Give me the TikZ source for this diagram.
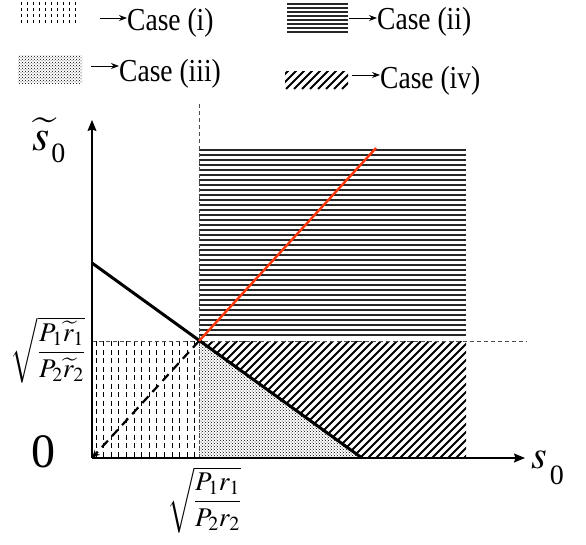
\documentclass[tikz,border=0pt]{standalone}
\usepackage{amsmath}
\usepackage{mathptmx}
\usepackage[no-math]{fontspec}
\setmainfont{Liberation Serif}
\usepackage{graphicx}
\usepackage{tikz}
\usetikzlibrary{arrows.meta,patterns}
\definecolor{ridgered}{RGB}{255,55,10}
\newcommand\narrow[1]{\scalebox{0.86}[1]{#1}}

\begin{document}
\begin{tikzpicture}[x=1pt, y=-1pt,
  axis/.style={line width=1.1pt, -{Stealth[length=11pt,width=9pt,inset=1.5pt]}},
  guide/.style={line width=0.8pt, black!70, dash pattern=on 4pt off 3pt},
  bound/.style={line width=3pt},
  ridge/.style={line width=2.4pt, ridgered},
  diag/.style={line width=2.2pt, dash pattern=on 9pt off 6pt, -{Stealth[length=8pt,width=7pt]}},
  stripe/.style={line width=1.2pt, black!85},
  hatch/.style={line width=2.1pt},
  dashcol/.style={line width=1pt, dash pattern=on 5pt off 3.5pt},
  dots/.style={pattern=crosshatch dots, pattern color=black},
  legtext/.style={anchor=base west, inner sep=0pt, font=\fontsize{32}{32}\selectfont},
  legarrow/.style={line width=1pt, -{Stealth[length=8pt,width=6pt]}},
  lbl/.style={anchor=base west, inner sep=0pt}]
\useasboundingbox (0,0) rectangle (586,544);

% key points
\coordinate (O) at (92,458);
\coordinate (Xtip) at (525,458);
\coordinate (Ytip) at (92,120);
\coordinate (K) at (199,341);
\coordinate (A) at (92,263);
\coordinate (B) at (362,458);
\coordinate (R) at (376,148);

% case (i)
\begin{scope}
\clip (92,341) rectangle (199,458);
\foreach \x in {96,103.6,...,196} \draw[dashcol] (\x,341) -- (\x,458);
\end{scope}
% case (ii)
\foreach \y in {150,155,...,335} \draw[stripe] (199,\y) -- (466,\y);
% case (iii)
\fill[dots] (K) -- (199,458) -- (B) -- cycle;
% case (iv)
\begin{scope}
\clip (K) -- (466,341) -- (466,458) -- (B) -- cycle;
\foreach \c in {80,88,...,470} \draw[hatch] (\c,458) -- ++(120,-120);
\end{scope}

% guides
\draw[guide] (199,104) -- (199,458);
\draw[guide] (92,341) -- (527,341);

% lines
\draw[bound] (A) -- (B);
\draw[ridge] (K) -- (R);
\draw[diag] (K) -- (O);
\draw[axis] (O) -- (Xtip);
\draw[axis] (O) -- (Ytip);

% axis labels
\node[lbl, font=\fontsize{44}{44}\selectfont] (ylab) at (32,150) {$\widetilde{s}$\kern2pt\raisebox{-12pt}{\fontsize{28}{28}\selectfont 0}};
\node[lbl, font=\fontsize{40}{40}\selectfont] (xlab) at (531,468) {$s$\kern3pt\raisebox{-16pt}{\fontsize{28}{28}\selectfont 0}};
\node[lbl, font=\fontsize{48}{48}\selectfont] (zero) at (31,467) {0};
\node[font=\fontsize{27}{32}\selectfont] (kx) at (204,500) {$\sqrt{\dfrac{P_1r_1}{P_2r_2}}$};
\node[font=\fontsize{27}{32}\selectfont] (ky) at (48,350) {$\sqrt{\dfrac{P_1\widetilde{r}_1}{P_2\widetilde{r}_2}}$};

% legend boxes
\begin{scope}
\clip (20,2) rectangle (80,25);
\foreach \x in {21,27,...,80} \draw[line width=1pt, dash pattern=on 3pt off 3pt] (\x,2) -- (\x,25);
\end{scope}
\foreach \y in {4,8,...,32} \draw[stripe] (287,\y) -- (348,\y);
\fill[dots] (18,55) rectangle (82,83);
\begin{scope}
\clip (285,71) rectangle (348,89);
\foreach \c in {270,278,...,350} \draw[hatch] (\c,89) -- ++(20,-20);
\end{scope}

% legend texts
\node[legtext] (ci) at (127,30) {\narrow{Case (i)}};
\node[legtext] (cii) at (377,29) {\narrow{Case (ii)}};
\node[legtext] (ciii) at (119,81) {\narrow{Case (iii)}};
\node[legtext] (civ) at (380,88) {\narrow{Case (iv)}};
\coordinate (ai) at (100,18);
\coordinate (aii) at (349,18);
\coordinate (aiii) at (91,66);
\coordinate (aiv) at (352,75);
\draw[legarrow] (ai) -- (ai -| ci.west);
\draw[legarrow] (aii) -- (aii -| cii.west);
\draw[legarrow] (aiii) -- (aiii -| ciii.west);
\draw[legarrow] (aiv) -- (aiv -| civ.west);
\end{tikzpicture}
\end{document}
